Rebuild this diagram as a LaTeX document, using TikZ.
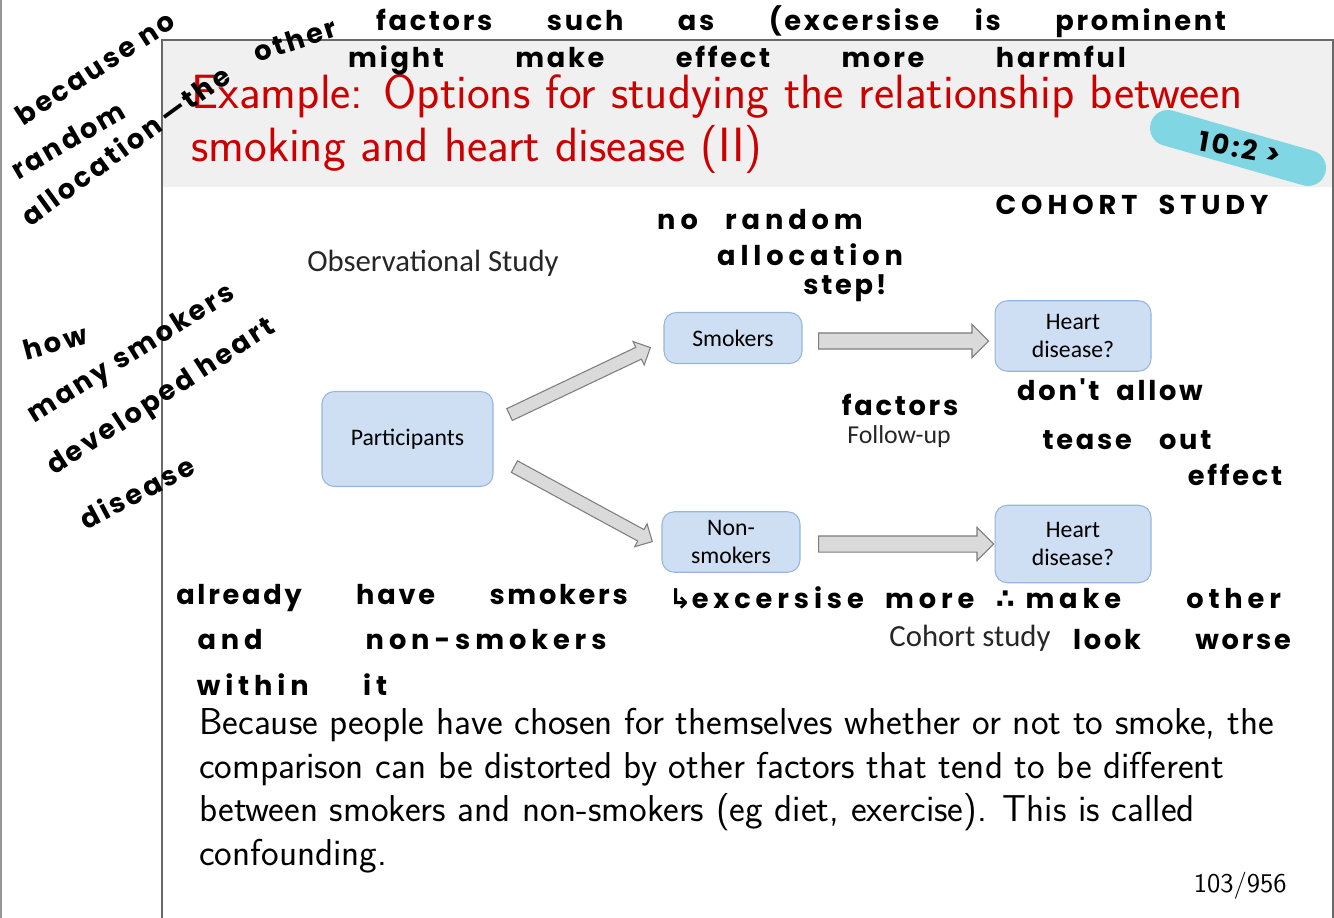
\documentclass[tikz,border=0pt]{standalone}
\usepackage{fontspec}
\newfontfamily\calibri{Carlito}
\newfontfamily\handfont[LetterSpace=10]{Poppins}
\newfontfamily\symfont{DejaVu Sans}
\usetikzlibrary{shapes.arrows, positioning, calc}
\definecolor{titlered}{RGB}{204, 0, 0}
\definecolor{bandgray}{RGB}{240, 240, 240}
\definecolor{framegray}{RGB}{105, 105, 105}
\definecolor{boxblue}{RGB}{206, 222, 243}
\definecolor{boxedge}{RGB}{150, 182, 222}
\definecolor{arrowfill}{RGB}{218, 218, 218}
\definecolor{arrowedge}{RGB}{125, 125, 125}
\definecolor{markcyan}{RGB}{128, 214, 226}

\newcommand{\blockarrow}[4][]{%
  \path let \p1=($(#3)-(#2)$), \n1={veclen(\x1,\y1)} in (#2) -- (#3)
    node[blockarr, #1, midway, sloped, allow upside down, minimum height=\n1] (#4) {};}

\begin{document}
\begin{tikzpicture}[
    x=0.02cm, y=-0.02cm,
    studybox/.style={draw=boxedge, fill=boxblue, rounded corners=7pt, line width=0.6pt,
        align=center, font=\calibri\fontsize{13.5}{15.5}\selectfont, inner sep=2pt},
    blockarr/.style={single arrow, draw=arrowedge, fill=arrowfill, line width=0.6pt,
        inner xsep=0pt, inner ysep=0.12cm, text height=0pt, text depth=0pt,
        single arrow head extend=0.13cm},
    bigarr/.style={inner ysep=0.15cm, single arrow head extend=0.17cm},
    caption/.style={font=\calibri\fontsize{17.5}{20}\selectfont, text=black!85},
    hand/.style={font=\handfont\bfseries\fontsize{15.5}{18}\selectfont, text=black, inner sep=0pt},
    handwide/.style={hand, font=\handfont\addfontfeature{LetterSpace=18}\bfseries\fontsize{15.5}{18}\selectfont}
]
    \useasboundingbox (0,0) rectangle (1334,918);

    % slide frame and title band
    \fill[bandgray] (162,40) rectangle (1334,187);
    \draw[framegray, line width=0.8pt] (162,918) -- (162,40) -- (1333,40) -- (1333,918);
    \draw[framegray!70, line width=0.8pt] (1,0) -- (1,918);

    \node[anchor=base west, inner sep=0pt, text=titlered, align=left,
        font=\sffamily\fontsize{27.4}{30.6}\selectfont] (title) at (191,162)
        {Example: Options for studying the relationship between\\smoking and heart disease (II)};

    % diagram
    \node[caption] (obs) at (433,263) {Observational Study};
    \node[studybox, minimum width=3.42cm, minimum height=1.9cm] (part) at (407.5,439) {Participants};
    \node[studybox, minimum width=2.76cm, minimum height=1.02cm] (smk) at (733,338) {Smokers};
    \node[studybox, minimum width=2.76cm, minimum height=1.21cm] (nsmk) at (731,542) {Non-\\smokers};
    \node[studybox, minimum width=3.12cm, minimum height=1.41cm] (hd1) at (1073,336) {Heart\\disease?};
    \node[studybox, minimum width=3.12cm, minimum height=1.55cm] (hd2) at (1073,544) {Heart\\disease?};
    \node[caption, font=\calibri\fontsize{14.7}{17}\selectfont] (follow) at (899,437) {Follow-up};
    \node[caption] (cohort) at (970,638) {Cohort study};

    \coordinate (a1s) at ($(part.east)+(13,-23)$);
    \coordinate (a1e) at ($(smk.west)+(-16,11)$);
    \coordinate (a2s) at ($(part.east)+(18,26)$);
    \coordinate (a2e) at ($(nsmk.west)+(-12,-2)$);
    \coordinate (a3s) at ($(smk.east)+(12,3)$);
    \coordinate (a3e) at ($(hd1.west)+(-10,5)$);
    \coordinate (a4s) at ($(nsmk.east)+(14,2)$);
    \coordinate (a4e) at ($(hd2.west)+(-5,0)$);
    \blockarrow{a1s}{a1e}{arr1}
    \blockarrow{a2s}{a2e}{arr2}
    \blockarrow[bigarr]{a3s}{a3e}{arr3}
    \blockarrow[bigarr]{a4s}{a4e}{arr4}

    % body text
    \node[anchor=base west, inner sep=0pt, align=left,
        font=\sffamily\fontsize{21.3}{24.7}\selectfont] (body) at (199,865)
        {Because people have chosen for themselves whether or not to smoke, the\\
        comparison can be distorted by other factors that tend to be different\\
        between smokers and non-smokers (eg diet, exercise).  This is called\\
        confounding.};
    \node[anchor=base east, inner sep=0pt, font=\sffamily\fontsize{15.4}{18}\selectfont]
        (pageno) at (1287,892) {103/956};

    % handwritten notes
    \draw[markcyan, line width=0.72cm, line cap=round] (1168,128) -- (1308,168);
    \node[hand, rotate=-10] (h10) at (1240,148) {10:2 >};
    \node[hand, rotate=33] (h1) at (95,68) {because no};
    \node[hand, rotate=30] (h2) at (68,140) {random};
    \node[hand, rotate=36] (h3) at (125,145) {allocation\,—the};
    \node[hand, rotate=18] (h4) at (295,40) {other};
    \node[hand] (h5) at (801,22) {factors\qquad such\qquad as\qquad (excersise\quad\ is\qquad prominent};
    \node[hand] (h6) at (737,60) {might\qquad\ \ make\qquad\ \ effect\qquad\ \ more\qquad\ \ harmful};
    \node[handwide] (h7) at (1132,205) {COHORT\ \ STUDY};
    \node[handwide] (h8) at (760,220) {no\quad random};
    \node[handwide] (h9) at (810,255) {allocation};
    \node[hand] (h11) at (845,288) {step!};
    \node[hand, rotate=15] (h12) at (55,342) {how};
    \node[hand, rotate=32] (h13) at (132,355) {many smokers};
    \node[hand, rotate=33] (h14) at (162,398) {developed heart};
    \node[hand] (h16) at (900,405) {factors};
    \node[hand, rotate=28] (h15) at (137,492) {disease};
    \node[hand] (h17) at (1110,390) {don't\ \ allow};
    \node[hand] (h18) at (1127,440) {tease\quad out};
    \node[hand] (h19) at (1235,475) {effect};
    \node[hand] (h20) at (402,598) {already\qquad have\qquad smokers};
    \node[handwide] (h21) at (975,598) {{\symfont ↳}excersise\ \ more\ \ {\symfont ∴}\ make\qquad\ other};
    \node[handwide] (h22) at (402,640) {and\qquad\quad\ \ non-smokers};
    \node[hand] (h23) at (1182,640) {look\qquad worse};
    \node[handwide] (h24) at (292,685) {within\qquad it};
\end{tikzpicture}
\end{document}
